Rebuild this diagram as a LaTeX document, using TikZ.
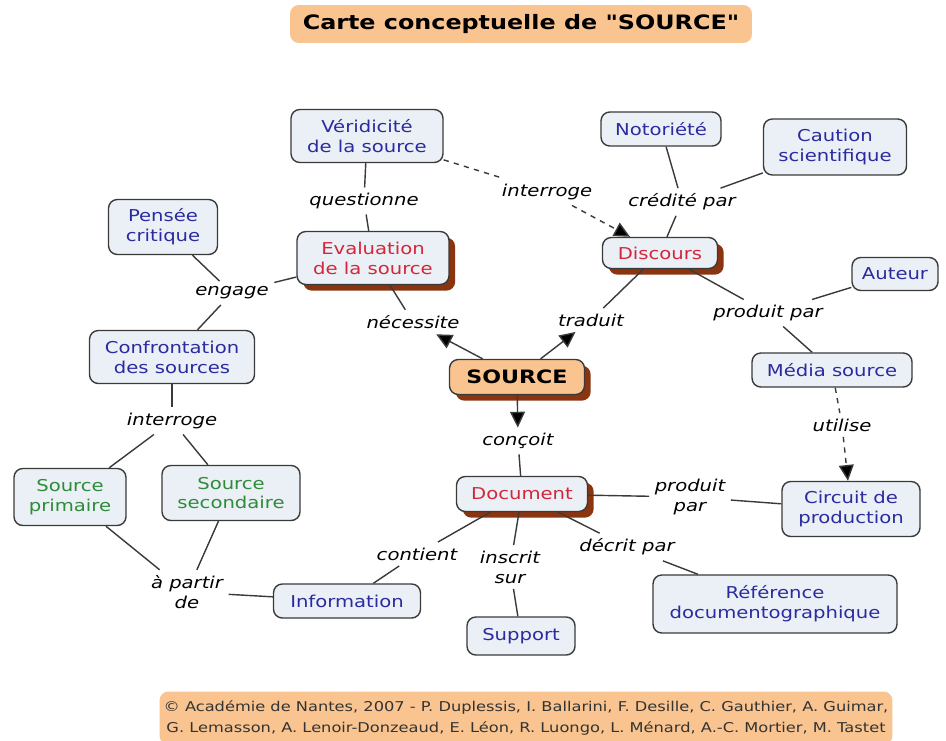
\documentclass[tikz,border=0pt]{standalone}
\usepackage{fontspec}
\setmainfont{DejaVu Sans}[FakeStretch=1.2]
\newfontfamily\plainfont{DejaVu Sans}[FakeStretch=1.2]
\usetikzlibrary{arrows.meta, positioning, shadows}
\definecolor{conceptfill}{HTML}{EAF0F5}
\definecolor{conceptline}{HTML}{3A3A3A}
\definecolor{peach}{HTML}{F9C48F}
\definecolor{rust}{HTML}{8A3510}
\definecolor{cblue}{HTML}{2B2BA0}
\definecolor{cred}{HTML}{D4263A}
\definecolor{cgreen}{HTML}{2E8B3A}

\begin{document}
\begin{tikzpicture}[x=0.02cm, y=-0.02cm,
  concept/.style={draw=conceptline, line width=0.8pt, fill=conceptfill, rounded corners=5pt,
    align=center, inner sep=0pt, font=\fontsize{9.3}{11.3}\selectfont, text=cblue},
  keyconcept/.style={concept, text=cred,
    drop shadow={shadow xshift=3.5pt, shadow yshift=-3.5pt, fill=rust, opacity=1}},
  kind/.style={concept, text=cgreen},
  linkword/.style={align=center, inner sep=3pt, font=\fontsize{9.3}{11.3}\selectfont\itshape},
  link/.style={line width=0.8pt, draw=conceptline},
  arrow/.style={link, -{Triangle[length=9pt,width=8.5pt,fill=black]}},
  banner/.style={fill=peach, rounded corners=5pt, align=center, inner sep=0pt}]
  \useasboundingbox [fill=white] (0,0) rectangle (946,740);

  \node [banner, minimum width=9.24cm, minimum height=0.76cm, font=\plainfont\fontsize{11.3}{13}\selectfont\bfseries] (title) at (521,24) {Carte conceptuelle de "SOURCE"};

  \node [concept, minimum width=3.04cm, minimum height=1.06cm] (veridicite) at (367,136) {Véridicité\\de la source};
  \node [concept, minimum width=2.4cm, minimum height=0.68cm] (notoriete) at (661,129) {Notoriété};
  \node [concept, minimum width=2.86cm, minimum height=1.12cm] (caution) at (835,147) {Caution\\scientifique};
  \node [concept, minimum width=2.18cm, minimum height=1.1cm] (pensee) at (163,227) {Pensée\\critique};
  \node [keyconcept, minimum width=3.04cm, minimum height=1.06cm] (evaluation) at (373,258) {Evaluation\\de la source};
  \node [keyconcept, minimum width=2.3cm, minimum height=0.62cm] (discours) at (660,253) {Discours};
  \node [concept, minimum width=1.72cm, minimum height=0.66cm] (auteur) at (895,274) {Auteur};
  \node [concept, minimum width=3.3cm, minimum height=1.06cm] (confrontation) at (172,357) {Confrontation\\des sources};
  \node [keyconcept, fill=peach, text=black, minimum width=2.7cm, minimum height=0.7cm, font=\fontsize{10.5}{12}\selectfont\bfseries] (source) at (517,377) {SOURCE};
  \node [concept, minimum width=3.2cm, minimum height=0.68cm] (media) at (832,370) {Média source};
  \node [kind, minimum width=2.24cm, minimum height=1.14cm] (primaire) at (70,497) {Source\\primaire};
  \node [kind, minimum width=2.76cm, minimum height=1.1cm] (secondaire) at (231,493) {Source\\secondaire};
  \node [keyconcept, minimum width=2.62cm, minimum height=0.7cm] (document) at (522,494) {Document};
  \node [concept, minimum width=2.76cm, minimum height=1.1cm] (circuit) at (851,509) {Circuit de\\production};
  \node [concept, minimum width=2.94cm, minimum height=0.68cm] (information) at (347,601) {Information};
  \node [concept, minimum width=4.88cm, minimum height=1.16cm] (reference) at (775,604) {Référence\\documentographique};
  \node [concept, minimum width=2.16cm, minimum height=0.76cm] (support) at (521,636) {Support};

  \node [linkword] (questionne) at (364,201) {questionne};
  \node [linkword] (interroge) at (547,192) {interroge};
  \node [linkword] (credite) at (682,202) {crédité par};
  \node [linkword] (engage) at (232,293) {engage};
  \node [linkword] (necessite) at (413,322) {nécessite};
  \node [linkword] (traduit) at (591,320) {traduit};
  \node [linkword] (produit) at (768,313) {produit par};
  \node [linkword] (interrogeb) at (172,421) {interroge};
  \node [linkword] (concoit) at (518,441) {conçoit};
  \node [linkword] (utilise) at (842,425) {utilise};
  \node [linkword] (produitb) at (690,497) {produit\\par};
  \node [linkword] (contient) at (417,554) {contient};
  \node [linkword] (inscrit) at (510,567) {inscrit\\sur};
  \node [linkword] (decrit) at (627,547) {décrit par};
  \node [linkword] (partir) at (187,592) {à partir\\de};

  \node [banner, minimum width=14.66cm, minimum height=1.06cm, text=black!80, font=\fontsize{7.7}{12.2}\selectfont] (credits) at (526,718) {© Académie de Nantes, 2007 - P. Duplessis, I. Ballarini, F. Desille, C. Gauthier, A. Guimar,\\G. Lemasson, A. Lenoir-Donzeaud, E. Léon, R. Luongo, L. Ménard, A.-C. Mortier, M. Tastet};

  \draw [link] (veridicite) -- (questionne);
  \draw [link] (questionne) -- (evaluation);
  \draw [link, dashed] (veridicite) -- (interroge);
  \draw [arrow, dashed] (interroge) -- (discours);
  \draw [link] (notoriete) -- (credite);
  \draw [link] (caution) -- (credite);
  \draw [link] (credite) -- (discours);
  \draw [link] (pensee) -- (engage);
  \draw [link] (engage) -- (confrontation);
  \draw [link] (engage) -- (evaluation);
  \draw [arrow] (source) -- (necessite);
  \draw [link] (necessite) -- (evaluation);
  \draw [arrow] (source) -- (traduit);
  \draw [link] (traduit) -- (discours);
  \draw [link] (discours) -- (produit);
  \draw [link] (produit) -- (auteur);
  \draw [link] (produit) -- (media);
  \draw [link] (confrontation) -- (interrogeb);
  \draw [link] (interrogeb) -- (primaire);
  \draw [link] (interrogeb) -- (secondaire);
  \draw [arrow] (source) -- (concoit);
  \draw [link] (concoit) -- (document);
  \draw [link, dashed] (media) -- (utilise);
  \draw [arrow, dashed] (utilise) -- (circuit);
  \draw [link] (document) -- (produitb);
  \draw [link] (produitb) -- (circuit);
  \draw [link] (document) -- (contient);
  \draw [link] (contient) -- (information);
  \draw [link] (document) -- (inscrit);
  \draw [link] (inscrit) -- (support);
  \draw [link] (document) -- (decrit);
  \draw [link] (decrit) -- (reference);
  \draw [link] (primaire) -- (partir);
  \draw [link] (secondaire) -- (partir);
  \draw [link] (partir) -- (information);
\end{tikzpicture}
\end{document}
